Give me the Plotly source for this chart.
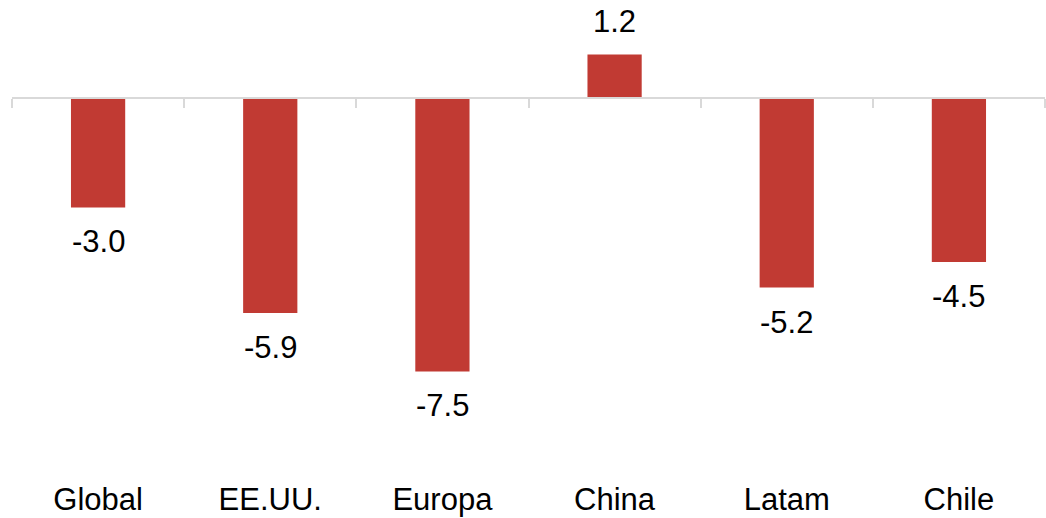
import plotly.graph_objects as go

categories = ["Global", "EE.UU.", "Europa", "China", "Latam", "Chile"]
values = [-3.0, -5.9, -7.5, 1.2, -5.2, -4.5]
value_labels = ["-3.0", "-5.9", "-7.5", "1.2", "-5.2", "-4.5"]

BAR_COLOR = "#C13A33"
AXIS_COLOR = "#D9D9D9"
FONT = "Liberation Sans, Arial, sans-serif"
FS = 31

W, H = 1046, 518
mt, mb, ml, mr = 10, 48, 12, 1
ymax, ymin = 2.418, -10.15
zero_pos = (0 - ymin) / (ymax - ymin)

fig = go.Figure()
fig.add_trace(go.Bar(
    x=categories, y=values, width=0.315,
    marker=dict(color=BAR_COLOR, line=dict(width=0)),
    showlegend=False, hoverinfo="skip",
))
fig.add_trace(go.Scatter(
    x=categories, y=[0] * len(categories), xaxis="x2", yaxis="y",
    mode="markers", marker=dict(opacity=0), showlegend=False, hoverinfo="skip",
))

for c, v, t in zip(categories, values, value_labels):
    fig.add_annotation(
        x=c, y=v, xref="x", yref="y", text=t, showarrow=False,
        yanchor="top" if v < 0 else "bottom",
        yshift=-15 if v < 0 else 13,
        font=dict(family=FONT, size=FS, color="#000000"),
    )

fig.update_layout(
    width=W, height=H,
    margin=dict(l=ml, r=mr, t=mt, b=mb, pad=0),
    paper_bgcolor="white", plot_bgcolor="white",
    font=dict(family=FONT, size=FS, color="#000000"),
    xaxis=dict(
        type="category", categoryarray=categories, range=[-0.5, len(categories) - 0.5],
        showline=False, ticks="", showgrid=False, zeroline=False,
        ticklabelstandoff=10,
        tickfont=dict(family=FONT, size=FS, color="#000000"),
    ),
    xaxis2=dict(
        type="category", categoryarray=categories, range=[-0.5, len(categories) - 0.5],
        overlaying="x", anchor="free", position=zero_pos, side="bottom",
        showline=True, linecolor=AXIS_COLOR, linewidth=2,
        ticks="outside", tickson="boundaries", ticklen=9, tickwidth=2, tickcolor=AXIS_COLOR,
        showticklabels=False, showgrid=False, zeroline=False,
    ),
    yaxis=dict(
        range=[ymin, ymax], visible=False, showgrid=False, zeroline=False,
    ),
)

fig.write_html("out.html")
